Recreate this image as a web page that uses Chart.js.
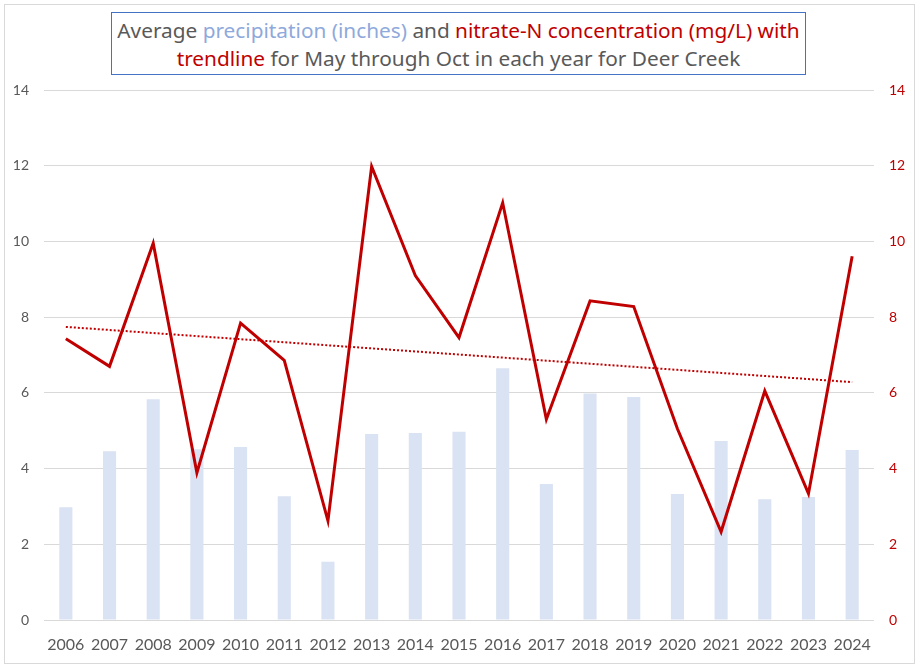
<!DOCTYPE html>
<html>
<head>
<meta charset="utf-8">
<script src="https://cdn.jsdelivr.net/npm/chart.js@4.4.1/dist/chart.umd.min.js"></script>
<style>
  html, body { margin: 0; padding: 0; background: #fff; }
  #wrap { position: relative; width: 920px; height: 672px; overflow: hidden; }
  #c { position: absolute; left: 0; top: 0; }
  #frame { position: absolute; left: 4px; top: 4px; width: 911px; height: 660px; box-sizing: border-box; border: 1px solid #D9D9D9; pointer-events: none; }
  #title { position: absolute; left: 111px; top: 12px; width: 695px; height: 63px; box-sizing: border-box; border: 1px solid #4472C4; background: #fff;
           font-family: "Noto Sans", Lato, sans-serif; font-size: 20.8px; line-height: 28px; text-align: center; color: #595959; padding-top: 3px; white-space: nowrap; }
  .blue { color: #8EA9DB; }
  .red { color: #C00000; }
</style>
</head>
<body>
<div id="wrap">
  <canvas id="c" width="920" height="672"></canvas>
  <div id="frame"></div>
  <div id="title">Average <span class="blue">precipitation (inches)</span> and <span class="red">nitrate-N concentration (mg/L) with</span><br><span class="red">trendline</span> for May through Oct in each year for Deer Creek</div>
</div>
<script>
const years = ["2006","2007","2008","2009","2010","2011","2012","2013","2014","2015","2016","2017","2018","2019","2020","2021","2022","2023","2024"];
const precipitation = [2.98, 4.46, 5.83, 4.51, 4.57, 3.27, 1.54, 4.91, 4.94, 4.97, 6.65, 3.59, 5.98, 5.89, 3.33, 4.73, 3.19, 3.25, 4.49];
const nitrate = [7.43, 6.70, 9.95, 3.89, 7.84, 6.86, 2.62, 11.98, 9.10, 7.46, 11.02, 5.30, 8.43, 8.28, 5.05, 2.33, 6.05, 3.34, 9.61];
const yTicksMin = 0, yTicksMax = 14, yTicksStep = 2;

// least-squares linear trendline of nitrate vs. year index
function trend(vals) {
  const n = vals.length;
  let sx = 0, sy = 0, sxx = 0, sxy = 0;
  vals.forEach((v, i) => { sx += i; sy += v; sxx += i * i; sxy += i * v; });
  const b = (n * sxy - sx * sy) / (n * sxx - sx * sx);
  const a = (sy - b * sx) / n;
  return vals.map((v, i) => a + b * i);
}
const nitrateTrend = trend(nitrate);

Chart.defaults.font.family = 'Lato, "Noto Sans", sans-serif';
Chart.defaults.color = '#595959';

new Chart(document.getElementById('c'), {
  data: {
    labels: years,
    datasets: [
      { type: 'line', label: 'Nitrate-N (mg/L)', data: nitrate, yAxisID: 'y1', borderColor: '#C00000', backgroundColor: '#C00000',
        borderWidth: 3, pointRadius: 0, tension: 0, order: 1 },
      { type: 'line', label: 'Trendline', data: nitrateTrend, yAxisID: 'y1', borderColor: '#C00000', borderWidth: 2,
        borderDash: [2, 2], pointRadius: 0, tension: 0, order: 2 },
      { type: 'bar', label: 'Precipitation (inches)', data: precipitation, yAxisID: 'y', backgroundColor: '#DAE3F3',
        barPercentage: 0.6, categoryPercentage: 0.5, order: 3 }
    ]
  },
  options: {
    responsive: false,
    devicePixelRatio: 1,
    animation: false,
    layout: { padding: { top: 90, bottom: 22, left: 4, right: 4 } },
    plugins: { legend: { display: false }, tooltip: { enabled: false }, title: { display: false } },
    scales: {
      x: {
        offset: true,
        grid: { display: false, drawTicks: false },
        border: { display: false },
        ticks: { color: '#595959', font: { size: 16 }, padding: 15, maxRotation: 0, autoSkip: false },
        afterFit: s => { s.height = 30; }
      },
      y: {
        position: 'left', min: yTicksMin, max: yTicksMax,
        ticks: { stepSize: yTicksStep, color: '#595959', font: { size: 14 }, padding: 15 },
        grid: { color: '#D9D9D9', lineWidth: 1, drawTicks: false },
        border: { display: false },
        afterFit: s => { s.width = 40; }
      },
      y1: {
        position: 'right', min: yTicksMin, max: yTicksMax,
        ticks: { stepSize: yTicksStep, color: '#C00000', font: { size: 14 }, padding: 15 },
        grid: { display: false, drawTicks: false },
        border: { display: false },
        afterFit: s => { s.width = 42; }
      }
    }
  }
});
</script>
</body>
</html>
